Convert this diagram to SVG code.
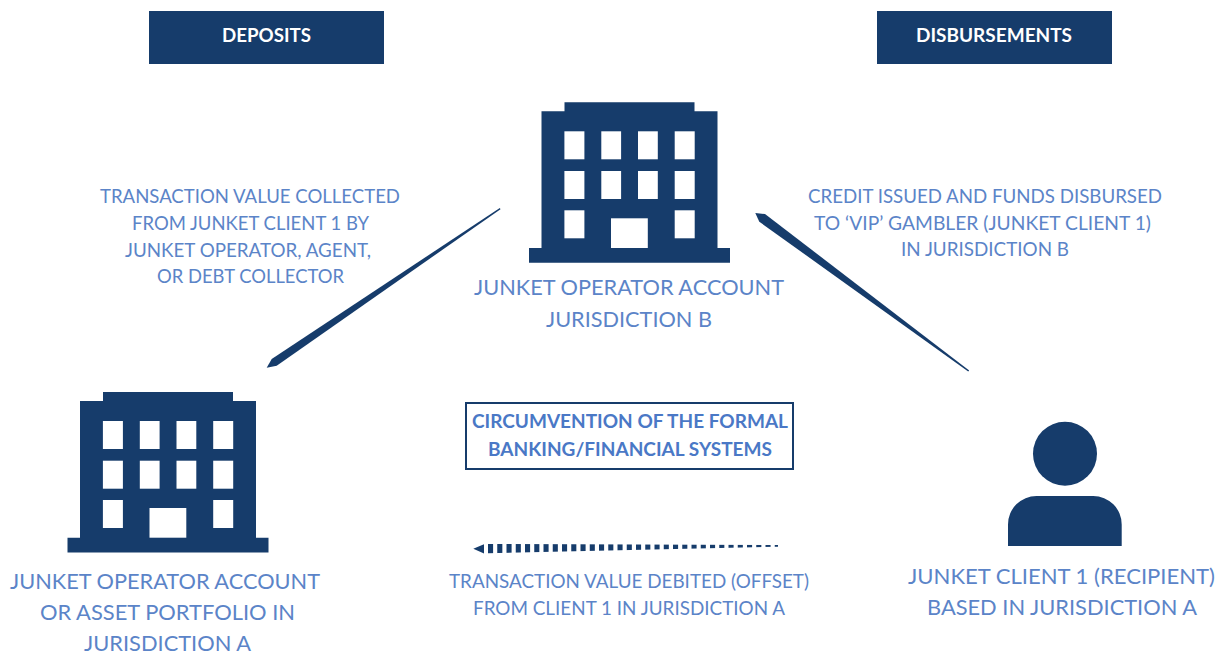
<svg xmlns="http://www.w3.org/2000/svg" width="1218" height="651" viewBox="0 0 1218 651">
<style>
text{font-family:"Lato","Carlito","Liberation Sans",sans-serif;text-anchor:middle;fill:#5b84c8}
.s{font-size:19px}
.l{font-size:22px}
.h{font-size:18px;font-weight:700;fill:#fff}
.b{font-size:18.5px;font-weight:700;fill:#4a78c6}
.d{fill:#163c6b}
.w{fill:#fff}
</style>
<defs>
<g id="building">
<path class="d" d="M564.5 102.3H694.5V111.3H717.5V248H730V262.7H529V248H541.5V111.3H564.5Z"/>
<g class="w">
<rect x="564.4" y="131.3" width="20" height="28"/><rect x="601.3" y="131.3" width="19.8" height="28"/><rect x="638" y="131.3" width="19.8" height="28"/><rect x="674.7" y="131.3" width="20" height="28"/>
<rect x="564.4" y="171" width="20" height="28"/><rect x="601.3" y="171" width="19.8" height="28"/><rect x="638" y="171" width="19.8" height="28"/><rect x="674.7" y="171" width="20" height="28"/>
<rect x="564.4" y="210.3" width="20" height="28"/><rect x="674.7" y="210.3" width="20" height="28"/>
<rect x="611" y="218.3" width="36.8" height="29.7"/>
</g>
</g>
<mask id="dashes" maskUnits="userSpaceOnUse" x="480" y="535" width="305" height="25">
<line x1="488" y1="549" x2="780" y2="549" stroke="#fff" stroke-width="24" stroke-dasharray="5.1 4.15"/>
</mask>
</defs>

<g id="deposits-header">
<rect class="d" x="149" y="11" width="235" height="53"/>
<text class="h" x="266.5" y="42" textLength="89" lengthAdjust="spacingAndGlyphs">DEPOSITS</text>
</g>
<g id="disbursements-header">
<rect class="d" x="877" y="11" width="235" height="53"/>
<text class="h" x="994" y="42" textLength="156" lengthAdjust="spacingAndGlyphs">DISBURSEMENTS</text>
</g>

<g id="connectors">
<polygon class="d" points="500.5,209.2 499.8,208 271.7,359 266.7,367.7 276.7,365.7"/>
<polygon class="d" points="969.2,370.5 968.2,371.6 759.3,221.7 755.3,213 765,214"/>
<polygon class="d" mask="url(#dashes)" points="488,544 778,545 778,546.7 488,553.3"/>
<polygon class="d" points="473.3,548.8 484,544.2 484,553.4"/>
</g>

<g id="operator-b">
<use href="#building"/>
<text class="l" x="629" y="295" textLength="310" lengthAdjust="spacingAndGlyphs">JUNKET OPERATOR ACCOUNT</text>
<text class="l" x="629" y="327" textLength="166" lengthAdjust="spacingAndGlyphs">JURISDICTION B</text>
</g>
<g id="operator-a">
<use href="#building" x="-461.5" y="289.7"/>
<text class="l" x="165" y="589" textLength="310" lengthAdjust="spacingAndGlyphs">JUNKET OPERATOR ACCOUNT</text>
<text class="l" x="167.5" y="620" textLength="255" lengthAdjust="spacingAndGlyphs">OR ASSET PORTFOLIO IN</text>
<text class="l" x="167.5" y="651" textLength="167" lengthAdjust="spacingAndGlyphs">JURISDICTION A</text>
</g>
<g id="client-1">
<circle class="d" cx="1065" cy="453.7" r="32"/>
<path class="d" d="M1008 546V524.500A28.500 28.500 0 0 1 1036.500 496H1093.200A28.500 28.500 0 0 1 1121.700 524.500V546Z"/>
<text class="l" x="1061.500" y="584" textLength="307" lengthAdjust="spacingAndGlyphs">JUNKET CLIENT 1 (RECIPIENT)</text>
<text class="l" x="1062" y="615" textLength="270" lengthAdjust="spacingAndGlyphs">BASED IN JURISDICTION A</text>
</g>
<g id="circumvention">
<rect x="466" y="403" width="327" height="66" fill="#fff" stroke="#163c6b" stroke-width="2"/>
<text class="b" x="630" y="428" textLength="316" lengthAdjust="spacingAndGlyphs">CIRCUMVENTION OF THE FORMAL</text>
<text class="b" x="630" y="456" textLength="284" lengthAdjust="spacingAndGlyphs">BANKING/FINANCIAL SYSTEMS</text>
</g>
<g id="label-collected">
<text class="s" x="250" y="203" textLength="300" lengthAdjust="spacingAndGlyphs">TRANSACTION VALUE COLLECTED</text>
<text class="s" x="250.500" y="230" textLength="237" lengthAdjust="spacingAndGlyphs">FROM JUNKET CLIENT 1 BY</text>
<text class="s" x="248" y="257" textLength="246" lengthAdjust="spacingAndGlyphs">JUNKET OPERATOR, AGENT,</text>
<text class="s" x="250.500" y="283" textLength="187" lengthAdjust="spacingAndGlyphs">OR DEBT COLLECTOR</text>
</g>
<g id="label-issued">
<text class="s" x="985" y="203" textLength="354" lengthAdjust="spacingAndGlyphs">CREDIT ISSUED AND FUNDS DISBURSED</text>
<text class="s" x="982.500" y="230" textLength="337" lengthAdjust="spacingAndGlyphs">TO ‘VIP’ GAMBLER (JUNKET CLIENT 1)</text>
<text class="s" x="985" y="256" textLength="168" lengthAdjust="spacingAndGlyphs">IN JURISDICTION B</text>
</g>
<g id="label-debited">
<text class="s" x="629" y="588" textLength="360" lengthAdjust="spacingAndGlyphs">TRANSACTION VALUE DEBITED (OFFSET)</text>
<text class="s" x="629" y="615" textLength="312" lengthAdjust="spacingAndGlyphs">FROM CLIENT 1 IN JURISDICTION A</text>
</g>
</svg>
